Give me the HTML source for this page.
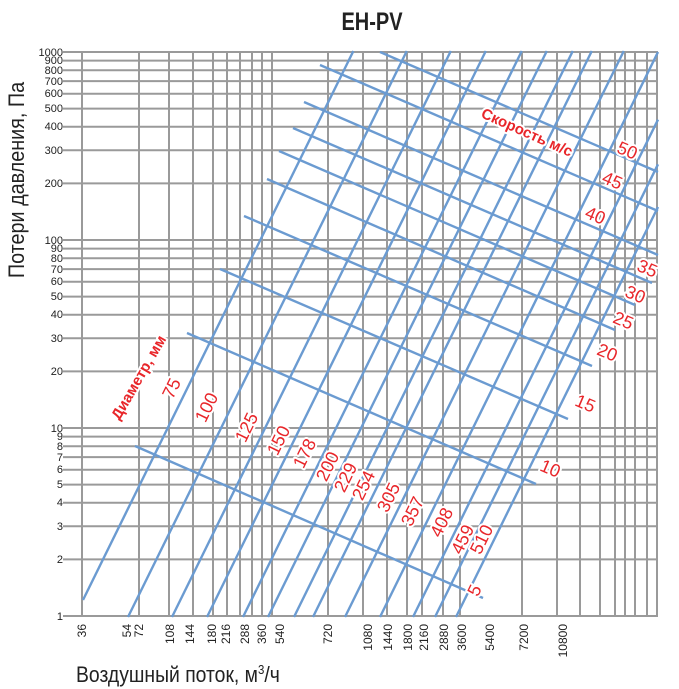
<!DOCTYPE html>
<html><head><meta charset="utf-8"><style>
html,body{margin:0;padding:0;background:#fff;}
svg{display:block;}
</style></head><body>
<svg width="679" height="689" viewBox="0 0 679 689" xmlns="http://www.w3.org/2000/svg" font-family="'Liberation Sans', sans-serif">
<rect width="679" height="689" fill="#fff"/>
<text x="372" y="30" text-anchor="middle" font-size="25" font-weight="bold" fill="#222" transform="translate(372 0) scale(0.8 1) translate(-372 0)">EH-PV</text>
<g stroke="#9a9a9a" stroke-width="2">
<line x1="63" y1="52" x2="658" y2="52"/><line x1="63" y1="60.6" x2="658" y2="60.6"/><line x1="63" y1="70.2" x2="658" y2="70.2"/><line x1="63" y1="81.1" x2="658" y2="81.1"/><line x1="63" y1="93.7" x2="658" y2="93.7"/><line x1="63" y1="108.6" x2="658" y2="108.6"/><line x1="63" y1="126.8" x2="658" y2="126.8"/><line x1="63" y1="150.3" x2="658" y2="150.3"/><line x1="63" y1="183.4" x2="658" y2="183.4"/>
<line x1="63" y1="240" x2="658" y2="240"/><line x1="63" y1="248.6" x2="658" y2="248.6"/><line x1="63" y1="258.2" x2="658" y2="258.2"/><line x1="63" y1="269.1" x2="658" y2="269.1"/><line x1="63" y1="281.7" x2="658" y2="281.7"/><line x1="63" y1="296.6" x2="658" y2="296.6"/><line x1="63" y1="314.8" x2="658" y2="314.8"/><line x1="63" y1="338.3" x2="658" y2="338.3"/><line x1="63" y1="371.4" x2="658" y2="371.4"/>
<line x1="63" y1="428" x2="658" y2="428"/><line x1="63" y1="436.6" x2="658" y2="436.6"/><line x1="63" y1="446.2" x2="658" y2="446.2"/><line x1="63" y1="457.1" x2="658" y2="457.1"/><line x1="63" y1="469.7" x2="658" y2="469.7"/><line x1="63" y1="484.6" x2="658" y2="484.6"/><line x1="63" y1="502.8" x2="658" y2="502.8"/><line x1="63" y1="526.3" x2="658" y2="526.3"/><line x1="63" y1="559.4" x2="658" y2="559.4"/><line x1="63" y1="616" x2="658" y2="616"/>
<line x1="82" y1="52" x2="82" y2="616"/><line x1="139" y1="52" x2="139" y2="616"/><line x1="169" y1="52" x2="169" y2="616"/><line x1="193" y1="52" x2="193" y2="616"/><line x1="213" y1="52" x2="213" y2="616"/><line x1="227" y1="52" x2="227" y2="616"/><line x1="240" y1="52" x2="240" y2="616"/><line x1="252" y1="52" x2="252" y2="616"/><line x1="262" y1="52" x2="262" y2="616"/><line x1="272" y1="52" x2="272" y2="616"/><line x1="328" y1="52" x2="328" y2="616"/><line x1="363" y1="52" x2="363" y2="616"/><line x1="387" y1="52" x2="387" y2="616"/><line x1="407" y1="52" x2="407" y2="616"/><line x1="422" y1="52" x2="422" y2="616"/><line x1="443" y1="52" x2="443" y2="616"/><line x1="460" y1="52" x2="460" y2="616"/><line x1="522" y1="52" x2="522" y2="616"/><line x1="557" y1="52" x2="557" y2="616"/><line x1="580" y1="52" x2="580" y2="616"/><line x1="600" y1="52" x2="600" y2="616"/><line x1="615" y1="52" x2="615" y2="616"/><line x1="625" y1="52" x2="625" y2="616"/><line x1="635" y1="52" x2="635" y2="616"/><line x1="647" y1="52" x2="647" y2="616"/><line x1="657" y1="52" x2="657" y2="616"/>
</g>
<g font-size="11" fill="#222" text-anchor="end">
<text x="63" y="56">1000</text><text x="63" y="64">900</text><text x="63" y="74">800</text><text x="63" y="85">700</text><text x="63" y="97">600</text><text x="63" y="112">500</text><text x="63" y="130">400</text><text x="63" y="154">300</text><text x="63" y="187">200</text>
<text x="63" y="244">100</text><text x="63" y="252">90</text><text x="63" y="262">80</text><text x="63" y="273">70</text><text x="63" y="285">60</text><text x="63" y="300">50</text><text x="63" y="318">40</text><text x="63" y="342">30</text><text x="63" y="375">20</text>
<text x="63" y="432">10</text><text x="63" y="440">9</text><text x="63" y="450">8</text><text x="63" y="461">7</text><text x="63" y="473">6</text><text x="63" y="488">5</text><text x="63" y="506">4</text><text x="63" y="530">3</text><text x="63" y="563">2</text><text x="63" y="620">1</text>
</g>
<g font-size="12" fill="#222" text-anchor="end">
<text transform="translate(86 624) rotate(-90)">36</text><text transform="translate(131 624) rotate(-90)">54</text><text transform="translate(143 624) rotate(-90)">72</text><text transform="translate(174 624) rotate(-90)">108</text><text transform="translate(194 624) rotate(-90)">144</text><text transform="translate(216 624) rotate(-90)">180</text><text transform="translate(230 624) rotate(-90)">216</text><text transform="translate(249 624) rotate(-90)">288</text><text transform="translate(266 624) rotate(-90)">360</text><text transform="translate(284 624) rotate(-90)">540</text><text transform="translate(332 624) rotate(-90)">720</text><text transform="translate(372 624) rotate(-90)">1080</text><text transform="translate(392 624) rotate(-90)">1440</text><text transform="translate(412 624) rotate(-90)">1800</text><text transform="translate(428 624) rotate(-90)">2160</text><text transform="translate(448 624) rotate(-90)">2880</text><text transform="translate(466 624) rotate(-90)">3600</text><text transform="translate(494 624) rotate(-90)">5400</text><text transform="translate(528 624) rotate(-90)">7200</text><text transform="translate(567 624) rotate(-90)">10800</text>
</g>
<g stroke="#6b9bd1" stroke-width="2.4" fill="none">
<line x1="83" y1="600" x2="353.4" y2="51"/><line x1="128" y1="617" x2="406.8" y2="51"/><line x1="172" y1="617" x2="450.8" y2="51"/><line x1="207" y1="617" x2="485.8" y2="51"/><line x1="243" y1="617" x2="521.8" y2="51"/><line x1="268" y1="617" x2="546.8" y2="51"/><line x1="294" y1="617" x2="572.8" y2="51"/><line x1="313" y1="617" x2="591.8" y2="51"/><line x1="345" y1="617" x2="623.8" y2="51"/><line x1="380" y1="617" x2="658" y2="52"/><line x1="413" y1="617" x2="658" y2="119.6"/><line x1="435" y1="617" x2="658" y2="164.3"/><line x1="456" y1="617" x2="658" y2="207"/>
<line x1="135" y1="446" x2="483" y2="598"/><line x1="187" y1="333" x2="536" y2="484"/><line x1="220" y1="269" x2="568" y2="419"/><line x1="244" y1="216" x2="592" y2="366"/><line x1="267" y1="179" x2="615" y2="330"/><line x1="279" y1="151" x2="635" y2="305"/><line x1="293" y1="128" x2="652" y2="283"/><line x1="304" y1="102" x2="658" y2="255"/><line x1="320" y1="65" x2="658" y2="211"/><line x1="380" y1="52" x2="658" y2="172"/>
</g>
<g font-size="18" fill="#e8262a" text-anchor="middle" stroke="#fff" stroke-width="4" paint-order="stroke" stroke-linejoin="round">
<text transform="translate(177 391) rotate(-64)">75</text><text transform="translate(212 410) rotate(-64)">100</text><text transform="translate(252 430) rotate(-64)">125</text><text transform="translate(284 443) rotate(-64)">150</text><text transform="translate(310 456) rotate(-64)">178</text><text transform="translate(333 469) rotate(-64)">200</text><text transform="translate(351 480) rotate(-64)">229</text><text transform="translate(369 488) rotate(-64)">254</text><text transform="translate(394 500) rotate(-64)">305</text><text transform="translate(418 514) rotate(-64)">357</text><text transform="translate(447 525) rotate(-64)">408</text><text transform="translate(468 542) rotate(-64)">459</text><text transform="translate(487 542) rotate(-64)">510</text>
<text transform="translate(480 593) rotate(-64)">5</text><text transform="translate(548 474) rotate(23)">10</text><text transform="translate(583 409) rotate(23)">15</text><text transform="translate(605 358) rotate(23)">20</text><text transform="translate(621 326) rotate(23)">25</text><text transform="translate(633 300) rotate(23)">30</text><text transform="translate(645 274) rotate(23)">35</text><text transform="translate(593 221) rotate(23)">40</text><text transform="translate(610 186) rotate(23)">45</text><text transform="translate(625 156) rotate(23)">50</text>
<text transform="translate(143 380) rotate(-60)" font-size="15" font-weight="bold">Диаметр, мм</text>
<text transform="translate(525 137) rotate(24)" font-size="15" font-weight="bold">Скорость м/с</text>
</g>
<text transform="translate(24 180) rotate(-90) scale(0.9 1)" font-size="22" fill="#222" text-anchor="middle">Потери давления, Па</text>
<text transform="translate(76 682) scale(0.88 1)" font-size="22" fill="#222">Воздушный поток, м<tspan font-size="13" dy="-8">3</tspan><tspan dy="8">/ч</tspan></text>
</svg>
</body></html>
